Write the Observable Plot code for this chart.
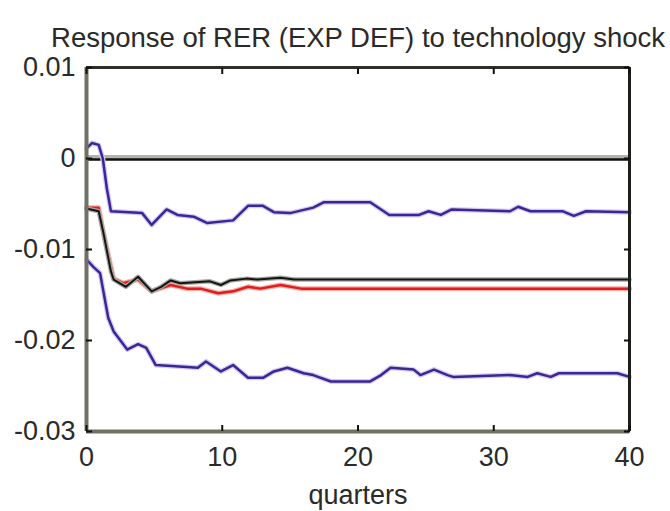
<!DOCTYPE html>
<html>
<head>
<meta charset="utf-8">
<script src="https://cdn.jsdelivr.net/npm/d3@7"></script>
<script src="https://cdn.jsdelivr.net/npm/@observablehq/plot@0.6"></script>
<style>
  body { margin: 0; background: #fff; }
</style>
</head>
<body>
<div id="chart"></div>
<script>
// Impulse response of the real exchange rate to a technology shock
const title = "Response of RER (EXP DEF) to technology shock";
const xLabel = "quarters";
const xTicks = [0, 10, 20, 30, 40];
const yTicks = [0.01, 0, -0.01, -0.02, -0.03];
const yTickLabels = ["0.01", "0", "-0.01", "-0.02", "-0.03"];

// [quarter, response] pairs
const upperBand = [
  [0, 0.0011], [0.4, 0.0017], [0.9, 0.0015], [1.2, 0.0000], [1.5, -0.0033], [1.8, -0.0058],
  [4.1, -0.0060], [4.8, -0.0073], [5.9, -0.0056], [6.7, -0.0062], [7.9, -0.0064], [8.9, -0.0071],
  [10.8, -0.0068], [11.9, -0.0052], [13.0, -0.0052], [13.8, -0.0059], [15.0, -0.0060], [16.7, -0.0054],
  [17.5, -0.0048], [20.9, -0.0048], [21.7, -0.0056], [22.3, -0.0062], [24.5, -0.0062], [25.2, -0.0058],
  [26.1, -0.0062], [26.9, -0.0056], [31.2, -0.0058], [31.8, -0.0053], [32.7, -0.0058], [35.1, -0.0058],
  [35.9, -0.0063], [36.8, -0.0058], [40, -0.0059]
];

const lowerBand = [
  [0, -0.0111], [0.5, -0.0119], [1.0, -0.0126], [1.6, -0.0175], [2.0, -0.0190], [3.0, -0.0210],
  [3.8, -0.0204], [4.4, -0.0208], [5.1, -0.0227], [7.4, -0.0229], [8.2, -0.0230], [8.8, -0.0223],
  [9.9, -0.0234], [10.8, -0.0227], [11.9, -0.0241], [13.0, -0.0241], [13.8, -0.0234], [14.8, -0.0230],
  [16.0, -0.0236], [16.7, -0.0238], [18.0, -0.0245], [20.9, -0.0245], [21.7, -0.0238], [22.4, -0.0230],
  [24.1, -0.0232], [24.6, -0.0238], [25.6, -0.0232], [26.6, -0.0238], [27.0, -0.0240], [31.2, -0.0238],
  [32.5, -0.0240], [33.2, -0.0236], [34.2, -0.0240], [34.8, -0.0236], [39.1, -0.0236], [40, -0.0240]
];

const medianResponse = [
  [0, -0.0054], [0.9, -0.0054], [1.25, -0.0082], [1.8, -0.0119], [2.0, -0.0132], [2.7, -0.0137],
  [3.8, -0.0133], [4.8, -0.0146], [6.2, -0.0139], [7.4, -0.0143], [8.4, -0.0143], [9.7, -0.0148],
  [10.8, -0.0146], [11.9, -0.0141], [12.8, -0.0143], [14.3, -0.0139], [15.8, -0.0143], [40, -0.0143]
];

const pointEstimate = [
  [0, -0.0055], [0.9, -0.0058], [1.25, -0.0082], [1.8, -0.0124], [2.0, -0.0133], [2.9, -0.0141],
  [3.8, -0.0130], [4.8, -0.0146], [5.5, -0.0141], [6.2, -0.0134], [6.9, -0.0137], [9.1, -0.0135],
  [9.9, -0.0139], [10.6, -0.0134], [11.8, -0.0132], [12.6, -0.0133], [14.3, -0.0131], [15.3, -0.0133],
  [40, -0.0133]
];

const toRows = (pairs) => pairs.map(([q, v]) => ({q, v}));

// a line with a soft halo underneath
const haloLine = (pairs, color, halo, width) => {
  const rows = toRows(pairs);
  return [
    Plot.line(rows, {x: "q", y: "v", stroke: halo, strokeWidth: width + 2.5, strokeLinejoin: "round"}),
    Plot.line(rows, {x: "q", y: "v", stroke: color, strokeWidth: width, strokeLinejoin: "round"})
  ];
};

const tickStyle = {label: null, fill: "none", tickSize: -6, stroke: "#111", strokeWidth: 2};

const chart = Plot.plot({
  width: 670,
  height: 511,
  marginTop: 67,
  marginBottom: 80,
  marginLeft: 86,
  marginRight: 41,
  style: {
    fontFamily: "'Liberation Sans', Arial, sans-serif",
    fontSize: "27px",
    color: "#2a2a2a",
    background: "#fff"
  },
  x: {domain: [0, 40]},
  y: {domain: [-0.03, 0.01]},
  marks: [
    // zero reference line
    Plot.ruleY([0], {stroke: "#b4b4aa", strokeWidth: 5, dy: -1}),
    Plot.ruleY([0], {stroke: "#111", strokeWidth: 2.5, dy: 1}),

    ...haloLine(upperBand, "#3b2597", "#d5cdef", 2.5),
    ...haloLine(lowerBand, "#3b2597", "#d5cdef", 2.5),
    ...haloLine(medianResponse, "#e01c1c", "#f3b0aa", 2.5),
    ...haloLine(pointEstimate, "#141414", "#a8a8a0", 2),

    // box around the plot area
    Plot.ruleX([0], {stroke: "#707064", strokeWidth: 4}),
    Plot.ruleY([-0.03], {stroke: "#707064", strokeWidth: 4}),
    Plot.ruleY([0.01], {stroke: "#2f2f28", strokeWidth: 3}),
    Plot.ruleX([40], {stroke: "#1e1e1a", strokeWidth: 3}),

    // inward tick marks on all four sides
    Plot.axisX(xTicks, {anchor: "bottom", ...tickStyle}),
    Plot.axisX(xTicks, {anchor: "top", ...tickStyle}),
    Plot.axisY(yTicks, {anchor: "left", ...tickStyle}),
    Plot.axisY(yTicks, {anchor: "right", ...tickStyle}),

    // tick labels
    Plot.axisX(xTicks, {anchor: "bottom", tickSize: 0, tickPadding: 15, label: null, fill: "#2a2a2a"}),
    Plot.axisY(yTicks, {
      anchor: "left", tickSize: 0, tickPadding: 11, label: null, fill: "#2a2a2a",
      tickFormat: (d) => yTickLabels[yTicks.indexOf(d)]
    }),

    // title and axis label
    Plot.text([title], {
      text: (d) => d, frameAnchor: "top", lineAnchor: "middle", dy: -29, fontSize: 27.5, fill: "#2a2a2a"
    }),
    Plot.text([xLabel], {
      text: (d) => d, frameAnchor: "bottom", lineAnchor: "middle", dy: 64, fontSize: 27, fill: "#2a2a2a"
    })
  ]
});

document.getElementById("chart").appendChild(chart);
</script>
</body>
</html>
